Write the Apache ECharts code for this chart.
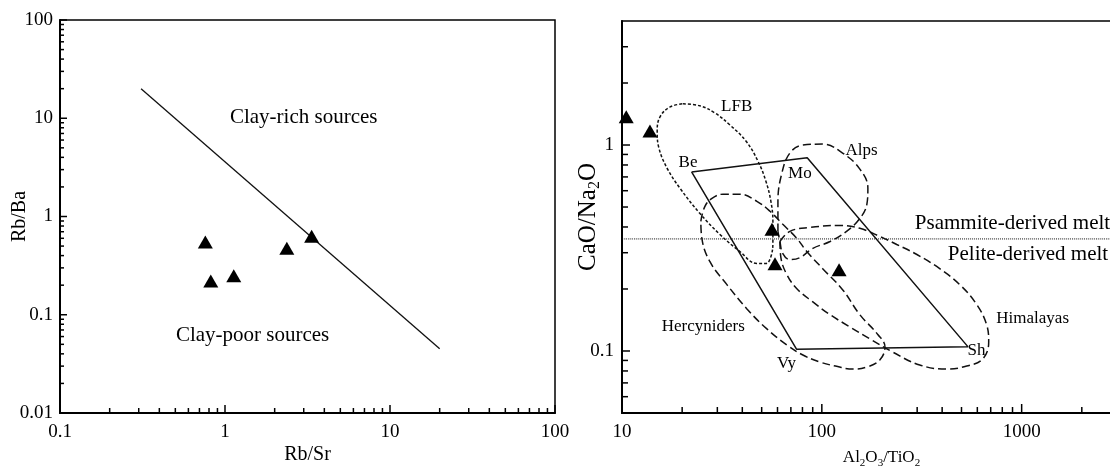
<!DOCTYPE html>
<html>
<head>
	<meta charset="UTF-8" />
	<title>Rb/Sr - Rb/Ba and Al2O3/TiO2 - CaO/Na2O</title>
	<script src="https://cdn.jsdelivr.net/npm/echarts@6.0.0/dist/echarts.min.js"></script>
	<style>
		html, body { margin: 0; padding: 0; background: #fff; }
		#main { width: 1110px; height: 466px; }
	</style>
</head>
<body>
	<div id="main"></div>
	<script type="text/javascript">
		// ---- left diagram: Rb/Sr vs Rb/Ba
		const rbSr = [0.76, 0.82, 1.13, 2.37, 3.35];
		const rbBa = [0.55, 0.22, 0.25, 0.475, 0.63];
		const clayLine = [[0.31, 20], [20, 0.045]];
		const leftNotes = [['Clay-rich sources', 3.0, 10.1], ['Clay-poor sources', 1.47, 0.061]];
		const leftXMajor = [0.1, 1, 10, 100];
		const leftXMinor = [0.2, 0.3, 0.4, 0.5, 0.6, 0.7, 0.8, 0.9, 2, 3, 4, 5, 6, 7, 8, 9, 20, 30, 40, 50, 60, 70, 80, 90];
		const leftYMajor = [0.01, 0.1, 1, 10, 100];
		const leftYMinor = [0.02, 0.03, 0.04, 0.05, 0.06, 0.07, 0.08, 0.09, 0.2, 0.3, 0.4, 0.5, 0.6, 0.7, 0.8, 0.9,
			2, 3, 4, 5, 6, 7, 8, 9, 20, 30, 40, 50, 60, 70, 80, 90];

		// ---- right diagram: Al2O3/TiO2 vs CaO/Na2O
		const alTi = [10.5, 13.8, 56.3, 58.3, 122];
		const caNa = [1.37, 1.17, 0.39, 0.265, 0.248];
		const meltLine = [[10, 0.35], [3000, 0.35]];
		const endMembers = [[22.3, 0.74], [84.5, 0.867], [538, 0.105], [74.7, 0.102], [22.3, 0.74]];
		const lfb = [[20.2, 1.585], [24.5, 1.55], [29.2, 1.43], [34.7, 1.25], [41.7, 1.046], [47.9, 0.835], [52.5, 0.667],
			[55.6, 0.533], [56.9, 0.426], [56.9, 0.34], [55.6, 0.287], [52.5, 0.266], [47.3, 0.266], [38.9, 0.304],
			[30.9, 0.368], [24.5, 0.466], [19.5, 0.617], [16.8, 0.773], [15.3, 0.967], [15.0, 1.17], [15.5, 1.37],
			[17.4, 1.53], [20.2, 1.585]];
		const alps = [[60.3, 0.381], [60.3, 0.533], [63.1, 0.73], [69.2, 0.914], [80.4, 1.0], [101, 1.01], [127, 0.914],
			[155, 0.764], [170, 0.617], [168, 0.515], [155, 0.44], [133, 0.381], [110, 0.34], [90.2, 0.315],
			[77.6, 0.284], [69.2, 0.278], [63.8, 0.297], [61.7, 0.34], [60.3, 0.381]];
		const hercynides = [[24.8, 0.426], [26.0, 0.504], [28.2, 0.551], [32.0, 0.577], [38.9, 0.577], [47.3, 0.533],
			[55.0, 0.477], [63.8, 0.412], [75.0, 0.352], [84.1, 0.304], [101, 0.251], [127, 0.1985], [155, 0.15],
			[191, 0.12], [207, 0.1046], [195, 0.0904], [168, 0.0836], [143, 0.0817], [117, 0.0845], [97.7, 0.0884],
			[80.4, 0.0956], [66.8, 0.107], [53.1, 0.128], [42.2, 0.16], [33.5, 0.21], [27.5, 0.272], [25.1, 0.352],
			[24.8, 0.426]];
		const himalayas = [[61.7, 0.34], [69.2, 0.381], [87.1, 0.398], [123, 0.407], [155, 0.394], [195, 0.36],
			[237, 0.329], [299, 0.294], [389, 0.251], [490, 0.21], [596, 0.168], [668, 0.134], [684, 0.1106],
			[638, 0.0914], [531, 0.0845], [422, 0.0817], [309, 0.0855], [226, 0.0989], [174, 0.1145], [138, 0.131],
			[110, 0.15], [90.2, 0.173], [75.0, 0.2006], [66.8, 0.235], [62.4, 0.284], [61.7, 0.34]];
		const fieldNotes = [['LFB', 37.5, 1.53], ['Alps', 158, 0.935], ['Be', 21.4, 0.826], ['Mo', 77.6, 0.724],
			['Sh', 594, 0.101], ['Vy', 66.6, 0.0867], ['Hercyniders', 25.5, 0.131], ['Himalayas', 1135, 0.1438]];
		const meltNotes = [['Psammite-derived melt', 292, 0.417], ['Pelite-derived melt', 427, 0.294]];
		const rightXMajor = [10, 100, 1000];
		const rightXMinor = [20, 30, 40, 50, 60, 70, 80, 90, 200, 300, 400, 500, 600, 700, 800, 900, 2000];
		const rightYMajor = [0.1, 1];
		const rightYMinor = [0.06, 0.07, 0.08, 0.09, 0.2, 0.3, 0.4, 0.5, 0.6, 0.7, 0.8, 0.9, 2, 3];

		const serif = '"Times New Roman", "Liberation Serif", "DejaVu Serif", serif';
		const chart = echarts.init(document.getElementById('main'));

		function powLabel(v) { // only label the decades
			const l = Math.log10(v);
			const r = Math.round(l);
			return Math.abs(l - r) < 1e-6 ? String(Math.pow(10, r)) : '';
		}

		function logAxis(idx, min, max, margin, name, nameGap, nameStyle) {
			return {
				type: 'log', logBase: 10, gridIndex: idx, min: min, max: max,
				axisLine: { show: true, lineStyle: { color: '#000', width: 2 } },
				axisTick: { show: false },
				splitLine: { show: false },
				axisLabel: { color: '#000', fontFamily: serif, fontSize: 19, margin: margin, formatter: powLabel },
				name: name, nameLocation: 'middle', nameGap: nameGap, nameMoveOverlap: false,
				nameTextStyle: Object.assign({ color: '#000', fontFamily: serif }, nameStyle)
			};
		}

		function tickData(vals, fixed, len, vertical) {
			return vals.map(v => vertical ? [fixed, v, len] : [v, fixed, len]);
		}

		function tickSeries(idx, data, vertical) {
			return {
				type: 'custom', xAxisIndex: idx, yAxisIndex: idx, silent: true, z: 5,
				data: data,
				renderItem: function (params, api) {
					const p = api.coord([api.value(0), api.value(1)]);
					const len = api.value(2);
					return {
						type: 'line',
						shape: vertical ? { x1: p[0], y1: p[1], x2: p[0] + len, y2: p[1] }
							: { x1: p[0], y1: p[1], x2: p[0], y2: p[1] - len },
						style: { stroke: '#000', lineWidth: 1.5 }
					};
				}
			};
		}

		function noteSeries(idx, notes, size, align) {
			return {
				type: 'custom', xAxisIndex: idx, yAxisIndex: idx, silent: true, z: 6,
				data: notes.map(n => [n[1], n[2]]),
				renderItem: function (params, api) {
					const p = api.coord([api.value(0), api.value(1)]);
					return {
						type: 'text', x: p[0], y: p[1],
						style: {
							text: notes[params.dataIndex][0], fill: '#000', fontFamily: serif, fontSize: size,
							align: align, verticalAlign: 'middle'
						}
					};
				}
			};
		}

		function lineSeries(idx, pts, type, width) {
			return {
				type: 'line', xAxisIndex: idx, yAxisIndex: idx, data: pts, smooth: type === 'solid' ? false : 0.4,
				symbol: 'none', silent: true, z: 3,
				lineStyle: { color: '#111', width: width, type: type }
			};
		}

		function triangles(idx, xs, ys) {
			return {
				type: 'scatter', xAxisIndex: idx, yAxisIndex: idx, symbol: 'triangle', symbolSize: [15, 13], z: 8,
				silent: true, itemStyle: { color: '#000', opacity: 1 },
				data: xs.map((x, i) => [x, ys[i]])
			};
		}

		const option = {
			animation: false,
			backgroundColor: '#fff',
			grid: [
				{ left: 60, top: 20, width: 495, height: 393, show: true, borderColor: '#000', borderWidth: 1.5, outerBoundsMode: 'none' },
				{ left: 622, top: 21, width: 495, height: 392, show: true, borderColor: '#000', borderWidth: 1.5, outerBoundsMode: 'none' }
			],
			xAxis: [
				logAxis(0, 0.1, 100, 10, 'Rb/Sr', 32, { fontSize: 20 }),
				logAxis(1, 10, 3000, 10, 'Al{s|2}O{s|3}/TiO{s|2}', 34, {
					fontSize: 17, lineHeight: 22, padding: [0, 0, 0, 24],
					rich: { s: { fontSize: 11, lineHeight: 11, verticalAlign: 'bottom', fontFamily: serif, color: '#000' } }
				})
			],
			yAxis: [
				logAxis(0, 0.01, 100, 7, 'Rb/Ba', 30, { fontSize: 20 }),
				logAxis(1, 0.05, 4, 8, 'CaO/Na{s|2}O', 19, {
					fontSize: 25, lineHeight: 29,
					rich: { s: { fontSize: 16, lineHeight: 16, verticalAlign: 'bottom', fontFamily: serif, color: '#000' } }
				})
			],
			series: [
				// left
				tickSeries(0, tickData(leftXMajor, 0.01, 8, false).concat(tickData(leftXMinor, 0.01, 5, false)), false),
				tickSeries(0, tickData(leftYMajor, 0.1, 7, true).concat(tickData(leftYMinor, 0.1, 4, true)), true),
				lineSeries(0, clayLine, 'solid', 1.3),
				triangles(0, rbSr, rbBa),
				noteSeries(0, leftNotes, 21, 'center'),
				// right
				tickSeries(1, tickData(rightXMajor, 0.05, 9, false).concat(tickData(rightXMinor, 0.05, 6, false)), false),
				tickSeries(1, tickData(rightYMajor, 10, 8, true).concat(tickData(rightYMinor, 10, 6, true)), true),
				lineSeries(1, meltLine, 'dotted', 1),
				lineSeries(1, endMembers, 'solid', 1.5),
				lineSeries(1, lfb, [3, 2], 1.5),
				lineSeries(1, alps, [8, 4], 1.5),
				lineSeries(1, hercynides, [8, 4], 1.5),
				lineSeries(1, himalayas, [8, 4], 1.5),
				triangles(1, alTi, caNa),
				noteSeries(1, fieldNotes, 17, 'center'),
				noteSeries(1, meltNotes, 21, 'left')
			]
		};
		chart.setOption(option);
	</script>
</body>
</html>
